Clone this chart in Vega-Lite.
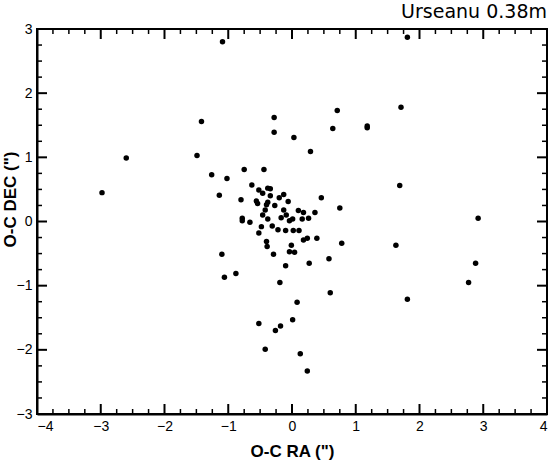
{
  "$schema": "https://vega.github.io/schema/vega-lite/v6.json",
  "width": 510,
  "height": 385,
  "autosize": {"type": "none"},
  "padding": {"left": 37, "top": 29, "right": 5, "bottom": 49},
  "background": "white",
  "title": {"text": "Urseanu 0.38m", "anchor": "end", "frame": "group", "font": "DejaVu Sans", "fontSize": 19, "fontWeight": "normal", "color": "black", "offset": 0},
  "config": {
    "view": {"stroke": "black", "strokeWidth": 2},
    "axis": {"grid": true, "gridOpacity": 0, "domain": true, "domainColor": "black", "domainWidth": 2, "ticks": false, "labelFont": "Liberation Sans", "labelFontSize": 14, "labelColor": "black", "titleFont": "Liberation Sans", "titleFontSize": 17, "titleFontWeight": "bold", "titleColor": "black"}
  },
  "datasets": {
    "pts": [
      {"ra": -1.09, "dec": 2.80}, {"ra": 1.81, "dec": 2.87}, {"ra": -1.42, "dec": 1.56}, {"ra": -0.28, "dec": 1.62},
      {"ra": -0.28, "dec": 1.39}, {"ra": 0.03, "dec": 1.31}, {"ra": 0.71, "dec": 1.73}, {"ra": 1.71, "dec": 1.78},
      {"ra": 0.64, "dec": 1.45}, {"ra": 1.18, "dec": 1.49}, {"ra": 1.18, "dec": 1.46}, {"ra": 0.29, "dec": 1.09},
      {"ra": -2.60, "dec": 0.99}, {"ra": -1.49, "dec": 1.03}, {"ra": -2.98, "dec": 0.45}, {"ra": -1.26, "dec": 0.73},
      {"ra": -1.02, "dec": 0.67}, {"ra": -0.75, "dec": 0.81}, {"ra": -0.44, "dec": 0.81}, {"ra": -0.63, "dec": 0.57},
      {"ra": -1.14, "dec": 0.41}, {"ra": -0.80, "dec": 0.34}, {"ra": -0.52, "dec": 0.49}, {"ra": -0.38, "dec": 0.52},
      {"ra": -0.34, "dec": 0.51}, {"ra": -0.46, "dec": 0.44}, {"ra": -0.34, "dec": 0.40}, {"ra": -0.13, "dec": 0.42},
      {"ra": -0.20, "dec": 0.37}, {"ra": -0.06, "dec": 0.31}, {"ra": -0.56, "dec": 0.32}, {"ra": -0.54, "dec": 0.28},
      {"ra": -0.38, "dec": 0.30}, {"ra": -0.40, "dec": 0.26}, {"ra": -0.27, "dec": 0.25}, {"ra": 0.46, "dec": 0.37},
      {"ra": -0.42, "dec": 0.18}, {"ra": -0.13, "dec": 0.18}, {"ra": 0.10, "dec": 0.17}, {"ra": 0.18, "dec": 0.14},
      {"ra": 0.36, "dec": 0.14}, {"ra": -0.46, "dec": 0.10}, {"ra": -0.09, "dec": 0.10}, {"ra": -0.17, "dec": 0.06},
      {"ra": -0.78, "dec": 0.05}, {"ra": -0.78, "dec": 0.01}, {"ra": -0.66, "dec": -0.01}, {"ra": -0.38, "dec": 0.04},
      {"ra": -0.04, "dec": 0.01}, {"ra": 0.01, "dec": 0.04}, {"ra": 0.16, "dec": 0.04}, {"ra": 0.26, "dec": 0.05},
      {"ra": 0.75, "dec": 0.21}, {"ra": 2.92, "dec": 0.05}, {"ra": -0.48, "dec": -0.08}, {"ra": -0.31, "dec": -0.07},
      {"ra": -0.22, "dec": -0.13}, {"ra": -0.10, "dec": -0.14}, {"ra": 0.02, "dec": -0.14}, {"ra": 0.11, "dec": -0.14},
      {"ra": -0.52, "dec": -0.18}, {"ra": -0.40, "dec": -0.31}, {"ra": -0.39, "dec": -0.39}, {"ra": 0.18, "dec": -0.29},
      {"ra": 0.24, "dec": -0.26}, {"ra": 0.39, "dec": -0.26}, {"ra": -0.01, "dec": -0.37}, {"ra": -0.04, "dec": -0.47},
      {"ra": 0.04, "dec": -0.48}, {"ra": -0.29, "dec": -0.51}, {"ra": -1.10, "dec": -0.51}, {"ra": 0.78, "dec": -0.34},
      {"ra": 1.63, "dec": -0.37}, {"ra": 0.58, "dec": -0.58}, {"ra": -0.10, "dec": -0.69}, {"ra": 0.27, "dec": -0.65},
      {"ra": 2.88, "dec": -0.65}, {"ra": -0.88, "dec": -0.81}, {"ra": -1.06, "dec": -0.87}, {"ra": -0.19, "dec": -0.95},
      {"ra": 2.77, "dec": -0.95}, {"ra": 0.60, "dec": -1.11}, {"ra": 1.81, "dec": -1.21}, {"ra": 0.08, "dec": -1.26},
      {"ra": 0.01, "dec": -1.53}, {"ra": -0.52, "dec": -1.59}, {"ra": -0.26, "dec": -1.70}, {"ra": -0.18, "dec": -1.63},
      {"ra": -0.42, "dec": -1.99}, {"ra": 0.13, "dec": -2.06}, {"ra": 0.24, "dec": -2.33}, {"ra": 1.69, "dec": 0.56}
    ],
    "xt": [
      {"v": -3.75, "k": "minor"}, {"v": -3.5, "k": "minor"}, {"v": -3.25, "k": "minor"}, {"v": -3, "k": "major"},
      {"v": -2.75, "k": "minor"}, {"v": -2.5, "k": "minor"}, {"v": -2.25, "k": "minor"}, {"v": -2, "k": "major"},
      {"v": -1.75, "k": "minor"}, {"v": -1.5, "k": "minor"}, {"v": -1.25, "k": "minor"}, {"v": -1, "k": "major"},
      {"v": -0.75, "k": "minor"}, {"v": -0.5, "k": "minor"}, {"v": -0.25, "k": "minor"}, {"v": 0, "k": "major"},
      {"v": 0.25, "k": "minor"}, {"v": 0.5, "k": "minor"}, {"v": 0.75, "k": "minor"}, {"v": 1, "k": "major"},
      {"v": 1.25, "k": "minor"}, {"v": 1.5, "k": "minor"}, {"v": 1.75, "k": "minor"}, {"v": 2, "k": "major"},
      {"v": 2.25, "k": "minor"}, {"v": 2.5, "k": "minor"}, {"v": 2.75, "k": "minor"}, {"v": 3, "k": "major"},
      {"v": 3.25, "k": "minor"}, {"v": 3.5, "k": "minor"}, {"v": 3.75, "k": "minor"}
    ],
    "yt": [
      {"v": -2.75, "k": "minor"}, {"v": -2.5, "k": "minor"}, {"v": -2.25, "k": "minor"}, {"v": -2, "k": "major"},
      {"v": -1.75, "k": "minor"}, {"v": -1.5, "k": "minor"}, {"v": -1.25, "k": "minor"}, {"v": -1, "k": "major"},
      {"v": -0.75, "k": "minor"}, {"v": -0.5, "k": "minor"}, {"v": -0.25, "k": "minor"}, {"v": 0, "k": "major"},
      {"v": 0.25, "k": "minor"}, {"v": 0.5, "k": "minor"}, {"v": 0.75, "k": "minor"}, {"v": 1, "k": "major"},
      {"v": 1.25, "k": "minor"}, {"v": 1.5, "k": "minor"}, {"v": 1.75, "k": "minor"}, {"v": 2, "k": "major"},
      {"v": 2.25, "k": "minor"}, {"v": 2.5, "k": "minor"}, {"v": 2.75, "k": "minor"}
    ]
  },
  "layer": [
    {
      "data": {"name": "pts"},
      "mark": {"type": "point", "filled": true, "shape": "circle", "size": 30, "color": "black", "opacity": 1},
      "encoding": {
        "x": {"field": "ra", "type": "quantitative", "scale": {"domain": [-4, 4], "nice": false, "zero": false},
              "axis": {"orient": "bottom", "tickCount": 8, "format": "d", "labelPadding": 5, "title": "O-C RA (\")", "titlePadding": 10}},
        "y": {"field": "dec", "type": "quantitative", "scale": {"domain": [-3, 3], "nice": false, "zero": false},
              "axis": {"orient": "left", "tickCount": 6, "format": "d", "labelPadding": 5, "title": "O-C DEC (\")", "titleX": -27, "titleY": 170, "titleBaseline": "middle", "titleAlign": "center", "titleAngle": -90}}
      }
    },
    {
      "data": {"name": "xt"},
      "transform": [{"filter": "datum.k == 'major'"}],
      "mark": {"type": "tick", "orient": "vertical", "thickness": 2, "size": 20, "clip": true, "color": "black", "opacity": 1},
      "encoding": {"x": {"field": "v", "type": "quantitative"}, "y": {"datum": -3, "type": "quantitative"}}
    },
    {
      "data": {"name": "xt"},
      "transform": [{"filter": "datum.k == 'major'"}],
      "mark": {"type": "tick", "orient": "vertical", "thickness": 2, "size": 20, "clip": true, "color": "black", "opacity": 1},
      "encoding": {"x": {"field": "v", "type": "quantitative"}, "y": {"datum": 3, "type": "quantitative"}}
    },
    {
      "data": {"name": "xt"},
      "transform": [{"filter": "datum.k == 'minor'"}],
      "mark": {"type": "tick", "orient": "vertical", "thickness": 1.5, "size": 10, "clip": true, "color": "black", "opacity": 1},
      "encoding": {"x": {"field": "v", "type": "quantitative"}, "y": {"datum": -3, "type": "quantitative"}}
    },
    {
      "data": {"name": "xt"},
      "transform": [{"filter": "datum.k == 'minor'"}],
      "mark": {"type": "tick", "orient": "vertical", "thickness": 1.5, "size": 10, "clip": true, "color": "black", "opacity": 1},
      "encoding": {"x": {"field": "v", "type": "quantitative"}, "y": {"datum": 3, "type": "quantitative"}}
    },
    {
      "data": {"name": "yt"},
      "transform": [{"filter": "datum.k == 'major'"}],
      "mark": {"type": "tick", "orient": "horizontal", "thickness": 2, "size": 20, "clip": true, "color": "black", "opacity": 1},
      "encoding": {"y": {"field": "v", "type": "quantitative"}, "x": {"datum": -4, "type": "quantitative"}}
    },
    {
      "data": {"name": "yt"},
      "transform": [{"filter": "datum.k == 'major'"}],
      "mark": {"type": "tick", "orient": "horizontal", "thickness": 2, "size": 20, "clip": true, "color": "black", "opacity": 1},
      "encoding": {"y": {"field": "v", "type": "quantitative"}, "x": {"datum": 4, "type": "quantitative"}}
    },
    {
      "data": {"name": "yt"},
      "transform": [{"filter": "datum.k == 'minor'"}],
      "mark": {"type": "tick", "orient": "horizontal", "thickness": 1.5, "size": 10, "clip": true, "color": "black", "opacity": 1},
      "encoding": {"y": {"field": "v", "type": "quantitative"}, "x": {"datum": -4, "type": "quantitative"}}
    },
    {
      "data": {"name": "yt"},
      "transform": [{"filter": "datum.k == 'minor'"}],
      "mark": {"type": "tick", "orient": "horizontal", "thickness": 1.5, "size": 10, "clip": true, "color": "black", "opacity": 1},
      "encoding": {"y": {"field": "v", "type": "quantitative"}, "x": {"datum": 4, "type": "quantitative"}}
    }
  ]
}
